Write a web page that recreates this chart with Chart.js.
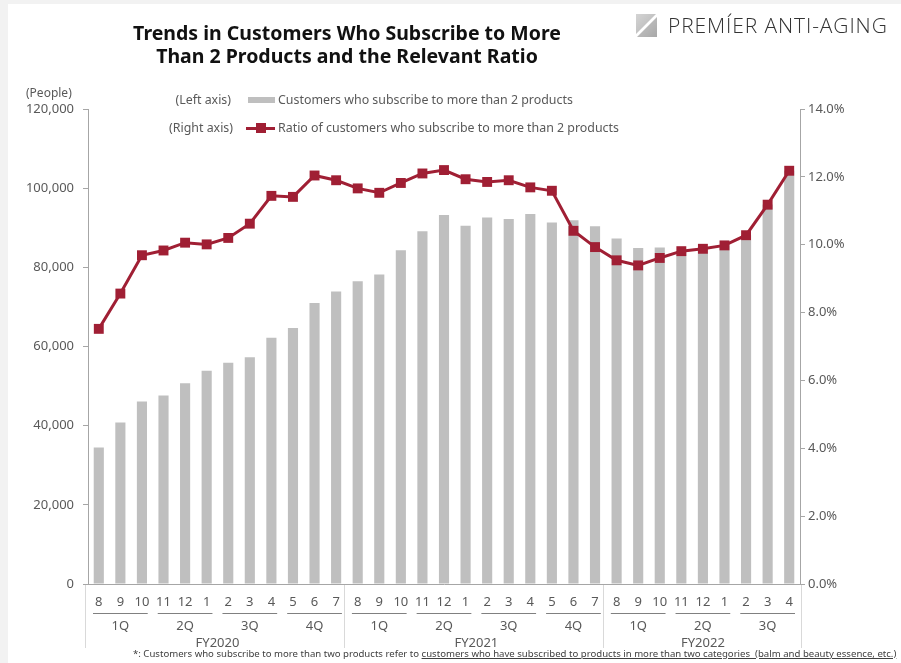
<!DOCTYPE html>
<html>
<head>
<meta charset="utf-8">
<script src="https://cdn.jsdelivr.net/npm/chart.js@4.4.1/dist/chart.umd.min.js"></script>
<style>
  body { margin: 0; width: 901px; height: 663px; overflow: hidden; position: relative; background: #f2f2f2; font-family: "Noto Sans", sans-serif; }
  .panel { position: absolute; left: 8px; top: 4px; right: 0; bottom: 0; background: #fff; }
  #chart { position: absolute; left: 0; top: 0; }
  .title { position: absolute; left: 47px; width: 600px; top: 21px; text-align: center; font-weight: bold; font-size: 19.5px; line-height: 23px; color: #111; }
  .logo-mark { position: absolute; left: 636px; top: 14px; width: 21px; height: 23px; background: linear-gradient(135deg, #d4d4d4 0%, #c4c4c4 44%, #fff 47%, #fff 53%, #b8b8b8 56%, #a8a8a8 100%); }
  .logo-text { position: absolute; left: 668px; top: 11px; font-family: "Open Sans", sans-serif; font-weight: 300; font-size: 21px; color: #333; letter-spacing: 0.9px; white-space: nowrap; }
  .unit { position: absolute; left: 26px; top: 84px; font-size: 12px; color: #595959; }
  .leg { position: absolute; font-size: 12.4px; color: #595959; white-space: nowrap; line-height: 16px; }
  .leg-bar { position: absolute; left: 248px; top: 97px; width: 27px; height: 6px; background: #bfbfbf; }
  .leg-line { position: absolute; left: 246px; top: 127px; width: 29px; height: 3px; background: #a01f34; }
  .leg-dot { position: absolute; left: 256px; top: 123px; width: 10px; height: 10px; background: #a01f34; }
  .note { position: absolute; left: 133px; top: 647px; font-size: 9.6px; color: #404040; white-space: nowrap; }
  .note u { text-decoration: underline; }
</style>
</head>
<body>
<div class="panel"></div>
<canvas id="chart" width="901" height="663"></canvas>

<div class="title">Trends in Customers Who Subscribe to More<br>Than 2 Products and the Relevant Ratio</div>
<div class="logo-mark"></div>
<div class="logo-text">PREMÍER ANTI-AGING</div>
<div class="unit">(People)</div>

<div class="leg" style="left:150px; width:81px; top:92px; text-align:right;">(Left axis)</div>
<div class="leg-bar"></div>
<div class="leg" style="left:278px; top:92px;">Customers who subscribe to more than 2 products</div>
<div class="leg" style="left:150px; width:83px; top:120px; text-align:right;">(Right axis)</div>
<div class="leg-line"></div>
<div class="leg-dot"></div>
<div class="leg" style="left:278px; top:120px;">Ratio of customers who subscribe to more than 2 products</div>

<div class="note">*: Customers who subscribe to more than two products refer to <u>customers who have subscribed to products in more than two categories&nbsp; (balm and beauty essence, etc.)</u></div>

<script>
// month labels, three fiscal years starting in August
const months = ['8','9','10','11','12','1','2','3','4','5','6','7',
                '8','9','10','11','12','1','2','3','4','5','6','7',
                '8','9','10','11','12','1','2','3','4'];
const quarterNames = ['1Q','2Q','3Q','4Q','1Q','2Q','3Q','4Q','1Q','2Q','3Q'];
const fiscalYears = ['FY2020','FY2021','FY2022'];
const quartersPerYear = [4, 4, 3];
const monthsPerQuarter = 3;

// customers with more than 2 products (people)
const customers = [34500, 40800, 46100, 47600, 50700, 53900, 55900, 57300, 62200, 64700, 71000, 73900,
                   76500, 78200, 84300, 89100, 93200, 90500, 92600, 92200, 93500, 91300, 91900, 90400,
                   87300, 84900, 85000, 84100, 84700, 85600, 88100, 95900, 104400];
// ratio of those customers (%)
const ratio = [7.52, 8.56, 9.69, 9.83, 10.06, 10.01, 10.20, 10.62, 11.44, 11.41, 12.04, 11.90,
               11.66, 11.53, 11.82, 12.10, 12.20, 11.93, 11.85, 11.90, 11.69, 11.59, 10.41, 9.93,
               9.54, 9.39, 9.61, 9.81, 9.88, 9.98, 10.28, 11.18, 12.18];

const axisGray = '#a6a6a6';
const textGray = '#595959';
const tickFont = { family: 'Noto Sans', size: 13 };

// quarter / fiscal year rows under the month labels
const groupAxis = {
  id: 'groupAxis',
  afterDraw(chart) {
    const ctx = chart.ctx;
    const x = chart.scales.x;
    const step = x.width / months.length;
    const base = chart.chartArea.bottom;
    ctx.save();
    ctx.font = '13px "Noto Sans"';
    ctx.fillStyle = textGray;
    ctx.textAlign = 'center';
    ctx.textBaseline = 'middle';

    let idx = 0;
    quarterNames.forEach(q => {
      const first = x.getPixelForValue(idx);
      const last = x.getPixelForValue(idx + monthsPerQuarter - 1);
      ctx.strokeStyle = '#808080';
      ctx.lineWidth = 1;
      ctx.beginPath();
      ctx.moveTo(first - step / 2 + 5, base + 29.5);
      ctx.lineTo(last + step / 2 - 5, base + 29.5);
      ctx.stroke();
      ctx.fillText(q, (first + last) / 2, base + 42);
      idx += monthsPerQuarter;
    });

    idx = 0;
    ctx.strokeStyle = '#d9d9d9';
    fiscalYears.forEach((fy, i) => {
      const n = quartersPerYear[i] * monthsPerQuarter;
      const first = x.getPixelForValue(idx);
      const last = x.getPixelForValue(idx + n - 1);
      const edge = Math.round(first - step / 2 - 3) + 0.5;
      ctx.beginPath();
      ctx.moveTo(edge, base + 1);
      ctx.lineTo(edge, base + 64);
      ctx.stroke();
      ctx.fillText(fy, (first + last) / 2, base + 59);
      idx += n;
    });
    const endX = Math.round(x.right + 1) + 0.5;
    ctx.beginPath();
    ctx.moveTo(endX, base + 1);
    ctx.lineTo(endX, base + 64);
    ctx.stroke();
    ctx.restore();
  }
};

const ctx = document.getElementById('chart').getContext('2d');
new Chart(ctx, {
  type: 'bar',
  data: {
    labels: months,
    datasets: [{
      type: 'line',
      label: 'Ratio of customers who subscribe to more than 2 products',
      data: ratio,
      yAxisID: 'y1',
      borderColor: '#a01f34',
      backgroundColor: '#a01f34',
      borderWidth: 3,
      pointStyle: 'rect',
      pointRadius: 7,
      pointBorderWidth: 0,
      tension: 0,
      order: 0
    }, {
      label: 'Customers who subscribe to more than 2 products',
      data: customers,
      yAxisID: 'y',
      backgroundColor: '#bfbfbf',
      barPercentage: 0.47,
      categoryPercentage: 1,
      order: 1
    }]
  },
  options: {
    responsive: false,
    animation: false,
    layout: { padding: { top: 109, left: 0, right: 0, bottom: 0 } },
    plugins: { legend: { display: false }, tooltip: { enabled: false } },
    scales: {
      x: {
        grid: { display: false },
        border: { color: axisGray },
        ticks: { color: textGray, font: tickFont, padding: 2, maxRotation: 0, autoSkip: false },
        afterFit(scale) { scale.height = 79; }
      },
      y: {
        position: 'left',
        min: 0, max: 120000,
        grid: { drawOnChartArea: false, color: axisGray, tickLength: 5 },
        border: { color: axisGray },
        ticks: { stepSize: 20000, color: textGray, font: tickFont, padding: 9,
                 callback: v => v.toLocaleString('en-US') },
        afterFit(scale) { scale.width = 88; }
      },
      y1: {
        position: 'right',
        min: 0, max: 14,
        grid: { drawOnChartArea: false, color: axisGray, tickLength: 5 },
        border: { color: axisGray },
        ticks: { stepSize: 2, color: textGray, font: tickFont, padding: 3,
                 callback: v => v.toFixed(1) + '%' },
        afterFit(scale) { scale.width = 101; }
      }
    }
  },
  plugins: [groupAxis]
});
</script>
</body>
</html>
